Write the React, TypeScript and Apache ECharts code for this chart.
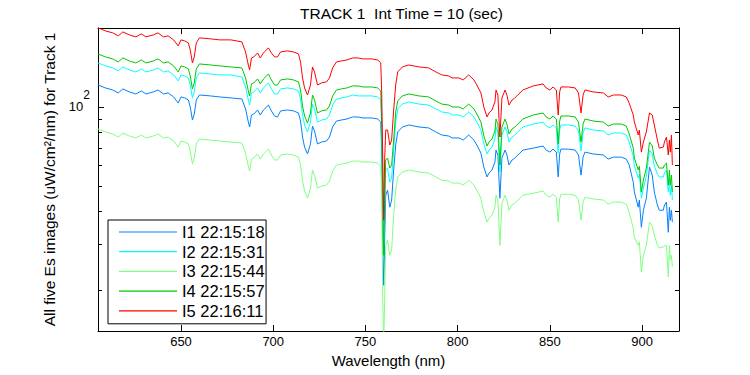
import React, { useEffect, useRef } from 'react';
import * as echarts from 'echarts';

const X_MIN = 605;
const X_MAX = 920;
const Y_MIN = 14;
const Y_MAX = 200;

const wavelengths = [
  605, 609, 613, 616, 618.5, 622, 625.5, 628.5, 631, 635,
  637.5, 640.5, 643, 646, 648.5, 650, 652, 654, 655, 656.2,
  657.2, 658.3, 660, 666, 671, 677, 683, 685, 686.5, 687.2,
  688.2, 689.5, 691.5, 693, 694.7, 697.4, 699, 700.7, 702.3, 704,
  707.7, 711, 713.7, 714.8, 715.9, 717, 718.6, 720.2, 721.3, 722.4,
  724, 726.2, 728.9, 730.5, 732.2, 734.3, 737, 740, 743, 746,
  748.5, 753.4, 756.6, 758.3, 758.8, 759.4, 759.9, 760.4, 761, 762,
  763.2, 764.2, 765.3, 766.4, 767.5, 770, 773.5, 779, 784.3, 788.2,
  791.4, 795.2, 797, 800.7, 803, 806, 808.8, 810.4, 812.6, 814.2,
  815.9, 817, 818.6, 820.2, 820.8, 821.8, 822.9, 824, 825.7, 826.7,
  827.8, 829.5, 831, 835.4, 841, 846.3, 848, 850, 851.7, 853.5,
  854.5, 855.3, 856, 860, 863.7, 865.5, 866.9, 868, 869, 873.5,
  879, 881.6, 884.5, 888.7, 891.4, 893, 895.2, 895.8, 897.9, 898.5,
  899.6, 900.7, 902.3, 904, 905.5, 906.6, 908.3, 909.3, 911.5, 912.1,
  913.2, 914.2, 914.8, 915.3, 915.9, 916.4
];

// I1 22:15:18 (blue)
const i1 = [
  121.3, 118.2, 116.1, 113.1, 117.2, 114.1, 112.1, 115.1, 112.1, 114.1,
  116.1, 112.1, 113.1, 109.2, 103.5, 109.2, 108.3, 106.3, 100, 89.2,
  94.0, 106.3, 111.1, 110.2, 109.2, 108.3, 107.3, 98.3, 87.6, 83.9,
  93.2, 94.0, 97.4, 93.2, 97.4, 101.7, 96.6, 92.4, 91.6, 96.6,
  97.4, 96.6, 94.9, 88.4, 76.8, 70.3, 66.2, 72.3, 84.6, 81.0,
  72.3, 73.5, 74.2, 76.8, 83.9, 88.4, 89.2, 90.0, 91.6, 91.6,
  90.8, 90.8, 90.0, 87.6, 68.5, 28.5, 20.9, 31.1, 46.1, 48.2,
  41.5, 44.2, 57.5, 71.6, 80.3, 83.9, 85.4, 83.9, 83.2, 80.3,
  78.2, 77.5, 76.2, 76.2, 74.8, 78.2, 74.8, 71.6, 66.7, 59.0,
  54.1, 56.0, 57.5, 61.7, 68.5, 65.6, 44.9, 63.9, 68.5, 65.6,
  60.1, 62.8, 63.9, 68.5, 69.7, 71.0, 68.5, 67.3, 69.1, 67.3,
  54.1, 66.2, 69.1, 69.1, 68.5, 65.6, 55.0, 64.4, 67.3, 66.2,
  65.6, 63.3, 64.4, 64.4, 63.3, 60.1, 51.7, 47.4, 41.5, 44.2,
  34.8, 40.4, 44.9, 59.0, 55.0, 47.4, 42.3, 40.4, 40.4, 42.3,
  43.4, 33.3, 41.5, 37.0, 40.4, 36.4
];

// I2 22:15:31 (cyan)
const i2 = [
  147.2, 143.4, 140.9, 137.2, 142.1, 138.4, 136.0, 139.7, 136.0, 138.4,
  140.9, 136.0, 137.2, 132.5, 125.7, 132.5, 131.3, 129.0, 121.3, 108.3,
  114.1, 129.0, 134.8, 133.6, 132.5, 132.5, 130.2, 119.2, 106.3, 101.7,
  113.1, 114.1, 118.2, 113.1, 118.2, 123.5, 117.2, 112.1, 112.1, 117.2,
  118.2, 117.2, 115.1, 107.3, 93.2, 85.4, 80.3, 87.6, 102.6, 98.3,
  87.6, 89.2, 90.0, 93.2, 101.7, 107.3, 108.3, 109.2, 111.1, 110.2,
  110.2, 110.2, 109.2, 106.3, 83.2, 40.4, 29.7, 38.7, 57.5, 58.5,
  51.7, 53.6, 68.5, 87.6, 98.3, 102.6, 104.5, 102.6, 101.7, 98.3,
  95.7, 94.9, 93.2, 93.2, 91.6, 95.7, 91.6, 87.6, 81.7, 72.3,
  66.2, 68.5, 70.3, 75.5, 83.9, 80.3, 56.5, 78.2, 83.9, 80.3,
  73.5, 76.8, 78.2, 83.9, 86.1, 87.6, 84.6, 83.2, 85.4, 83.2,
  66.7, 81.7, 85.4, 85.4, 84.6, 81.0, 67.9, 79.6, 83.2, 81.7,
  81.0, 78.2, 79.6, 79.6, 78.2, 73.5, 65.0, 59.5, 53.6, 55.5,
  44.9, 49.1, 54.5, 68.5, 66.2, 59.5, 55.5, 54.1, 54.1, 56.0,
  57.5, 47.4, 53.6, 46.1, 50.4, 44.2
];

// I3 22:15:44 (light green)
const i3 = [
  82.4, 80.3, 78.9, 76.8, 79.6, 77.5, 76.2, 78.2, 76.2, 77.5,
  78.9, 76.2, 76.8, 74.2, 70.3, 74.2, 73.5, 72.3, 67.9, 60.6,
  63.9, 72.3, 75.5, 74.8, 74.2, 73.5, 72.9, 66.7, 59.5, 57.0,
  63.3, 63.9, 66.2, 63.3, 66.2, 69.1, 65.6, 62.8, 62.8, 65.6,
  66.2, 65.6, 64.4, 60.1, 52.2, 47.8, 44.9, 49.1, 57.5, 55.0,
  49.1, 49.9, 50.4, 52.2, 57.0, 60.1, 60.6, 61.1, 62.2, 62.2,
  61.7, 61.7, 61.1, 59.5, 46.1, 18.3, 12.4, 18.3, 29.7, 31.1,
  27.2, 28.5, 38.7, 48.2, 54.1, 56.5, 57.5, 56.5, 56.0, 54.1,
  52.6, 52.2, 51.3, 51.3, 50.4, 52.6, 50.4, 48.2, 44.9, 39.7,
  36.4, 37.7, 38.7, 41.5, 46.1, 44.2, 29.7, 43.0, 46.1, 44.2,
  40.4, 42.3, 43.0, 46.1, 46.9, 47.8, 46.1, 45.3, 46.5, 45.3,
  36.4, 44.6, 46.5, 46.5, 46.1, 44.2, 37.0, 43.4, 45.3, 44.6,
  44.2, 42.6, 43.4, 43.4, 42.6, 39.7, 34.5, 31.7, 29.7, 30.6,
  23.5, 27.2, 29.7, 36.4, 35.1, 32.5, 29.7, 29.0, 29.3, 29.5,
  29.7, 22.5, 29.7, 26.1, 27.2, 24.6
];

// I4 22:15:57 (green)
const i4 = [
  159.3, 155.2, 152.5, 148.5, 153.8, 149.8, 147.2, 151.1, 147.2, 149.8,
  152.5, 147.2, 148.5, 143.4, 136.0, 143.4, 142.1, 139.7, 131.3, 117.2,
  123.5, 139.7, 145.9, 144.6, 143.4, 142.1, 140.9, 129.0, 115.1, 110.2,
  122.4, 123.5, 127.9, 122.4, 127.9, 133.6, 126.8, 121.3, 121.3, 126.8,
  127.9, 126.8, 124.6, 116.1, 100.9, 92.4, 86.9, 94.9, 111.1, 106.3,
  94.9, 96.6, 97.4, 100.9, 110.2, 116.1, 117.2, 118.2, 120.3, 120.3,
  119.2, 119.2, 118.2, 115.1, 89.2, 44.2, 27.2, 44.2, 62.8, 63.9,
  58.5, 60.1, 74.8, 95.7, 105.4, 110.2, 112.1, 110.2, 109.2, 105.4,
  102.6, 101.7, 100, 100, 98.3, 102.6, 98.3, 94.0, 87.6, 77.5,
  71.0, 73.5, 75.5, 81.0, 90.0, 86.1, 60.1, 83.9, 90.0, 86.1,
  78.9, 82.4, 83.9, 90.0, 93.2, 94.9, 91.6, 90.0, 92.4, 90.0,
  72.3, 88.4, 92.4, 92.4, 91.6, 87.6, 73.5, 86.1, 90.0, 88.4,
  87.6, 84.6, 86.1, 86.1, 84.6, 78.9, 69.7, 63.9, 57.5, 59.5,
  47.4, 52.6, 58.5, 73.5, 71.0, 63.9, 60.1, 58.5, 58.5, 60.1,
  61.1, 50.4, 57.5, 50.4, 55.0, 47.4
];

// I5 22:16:11 (red)
const i5 = [
  200.2, 195.0, 191.6, 186.6, 193.3, 188.2, 185.0, 189.9, 185.0, 188.2,
  191.6, 185.0, 186.6, 180.2, 170.9, 180.2, 178.6, 175.5, 165.0, 147.2,
  155.2, 175.5, 183.4, 181.8, 180.2, 180.2, 177.1, 162.1, 144.6, 138.4,
  153.8, 155.2, 160.7, 153.8, 160.7, 168.0, 160.7, 155.2, 155.2, 162.1,
  163.6, 162.1, 159.3, 148.5, 129.0, 118.2, 111.1, 121.3, 142.1, 136.0,
  121.3, 123.5, 124.6, 129.0, 140.9, 148.5, 149.8, 151.1, 153.8, 153.8,
  152.5, 152.5, 151.1, 147.2, 114.1, 62.8, 37.0, 62.8, 81.7, 81.7,
  71.6, 74.8, 97.4, 121.3, 136.0, 142.1, 144.6, 142.1, 140.9, 136.0,
  132.5, 131.3, 129.0, 129.0, 126.8, 132.5, 126.8, 121.3, 113.1, 100,
  91.6, 94.9, 97.4, 104.5, 116.1, 111.1, 76.8, 108.3, 116.1, 111.1,
  101.7, 106.3, 108.3, 116.1, 120.3, 122.4, 118.2, 116.1, 119.2, 116.1,
  93.2, 114.1, 119.2, 119.2, 118.2, 113.1, 94.9, 111.1, 116.1, 114.1,
  113.1, 109.2, 111.1, 111.1, 109.2, 103.5, 93.2, 87.6, 78.2, 81.7,
  67.3, 73.5, 80.3, 94.9, 93.2, 85.4, 74.8, 69.7, 70.3, 73.5,
  76.8, 65.6, 74.8, 67.3, 78.2, 60.1
];

const seriesNames = ['I1 22:15:18', 'I2 22:15:31', 'I3 22:15:44', 'I4 22:15:57', 'I5 22:16:11'];
const seriesColors = ['#0080ff', '#00ffff', '#80ff80', '#00c800', '#ff0000'];
const seriesValues = [i1, i2, i3, i4, i5];

const yTickValues = [20, 30, 40, 50, 60, 70, 80, 90, 100];
const yMajorTick = 100;

const FONT = "'Liberation Sans', Arial, Helvetica, sans-serif";

export default function App() {
  const ref = useRef<HTMLDivElement>(null);

  useEffect(() => {
    if (!ref.current) return;
    const chart = echarts.init(ref.current, null, { renderer: 'svg' });

    const lineSeries = seriesNames.map((name, k) => ({
      type: 'line',
      name,
      data: wavelengths.map((w, i) => [w, seriesValues[k][i]]),
      showSymbol: false,
      symbol: 'none',
      clip: true,
      lineStyle: { width: 1, color: seriesColors[k] },
      itemStyle: { color: seriesColors[k] },
      emphasis: { disabled: true },
    }));

    const tickSeries = {
      type: 'custom',
      silent: true,
      clip: false,
      data: yTickValues.map((v) => [X_MIN, v]),
      renderItem: (params: any, api: any) => {
        const cs = params.coordSys;
        const v = api.value(1);
        const p = api.coord([api.value(0), v]);
        const y = Math.round(p[1]) + 0.5;
        const len = v === yMajorTick ? 6 : 4;
        return {
          type: 'group',
          children: [
            { type: 'line', shape: { x1: cs.x, y1: y, x2: cs.x + len, y2: y }, style: { stroke: '#000', lineWidth: 1 } },
            { type: 'line', shape: { x1: cs.x + cs.width - len, y1: y, x2: cs.x + cs.width, y2: y }, style: { stroke: '#000', lineWidth: 1 } },
          ],
        };
      },
    };

    const xAxisCommon = {
      type: 'value',
      min: X_MIN,
      max: X_MAX,
      splitLine: { show: false },
      axisLine: { show: true, onZero: false, lineStyle: { color: '#000', width: 1 } },
      axisTick: { show: true, inside: true, length: 6, lineStyle: { color: '#000', width: 1 } },
    };

    const yAxisCommon = {
      type: 'log',
      logBase: 10,
      min: Y_MIN,
      max: Y_MAX,
      splitLine: { show: false },
      minorTick: { show: false },
      axisTick: { show: false },
      axisLine: { show: true, onZero: false, lineStyle: { color: '#000', width: 1 } },
    };

    const option: any = {
      animation: false,
      backgroundColor: '#ffffff',
      title: {
        text: 'TRACK 1  Int Time = 10 (sec)',
        left: 295,
        top: 0,
        textStyle: { fontFamily: FONT, fontSize: 15.5, fontWeight: 'normal', color: '#000' },
      },
      grid: { left: 98, top: 28, width: 581, height: 303, containLabel: false },
      legend: {
        orient: 'vertical',
        left: 108,
        top: 220,
        padding: [3.5, 1.5, 4.5, 11],
        icon: 'rect',
        itemWidth: 58,
        itemHeight: 1.2,
        itemGap: 2.7,
        borderColor: '#000',
        borderWidth: 1,
        borderRadius: 0,
        backgroundColor: '#fff',
        textStyle: { fontFamily: FONT, fontSize: 16.5, color: '#000', lineHeight: 16.5 },
        data: seriesNames,
        selectedMode: false,
      },
      xAxis: [
        {
          ...xAxisCommon,
          position: 'bottom',
          name: 'Wavelength (nm)',
          nameLocation: 'middle',
          nameGap: 18,
          nameTextStyle: { fontFamily: FONT, fontSize: 15, color: '#000' },
          axisLabel: {
            formatter: (v: number) => (Math.round(v) % 50 === 0 ? String(Math.round(v)) : ''),
            fontFamily: FONT,
            fontSize: 13,
            color: '#000',
            margin: 4,
          },
        },
        {
          ...xAxisCommon,
          position: 'top',
          axisLabel: { show: false },
        },
      ],
      yAxis: [
        {
          ...yAxisCommon,
          position: 'left',
          name: 'All five Es images (uW/cm²/nm) for Track 1',
          nameLocation: 'middle',
          nameRotate: 90,
          nameGap: 33,
          nameTextStyle: { fontFamily: FONT, fontSize: 15.5, color: '#000' },
          axisLabel: {
            formatter: (v: number) => (Math.abs(v - 100) < 0.5 ? '{b|10}{s|2}' : ''),
            margin: 8,
            rich: {
              b: { fontFamily: FONT, fontSize: 13, color: '#000', lineHeight: 36 },
              s: { fontFamily: FONT, fontSize: 12, color: '#000', lineHeight: 12, verticalAlign: 'top' },
            },
          },
        },
        {
          ...yAxisCommon,
          position: 'right',
          axisLabel: { show: false },
        },
      ],
      series: [...lineSeries, tickSeries],
    };

    chart.setOption(option);
    return () => chart.dispose();
  }, []);

  return (
    <div
      ref={ref}
      style={{ position: 'absolute', left: 0, top: 0, width: 750, height: 375, background: '#fff' }}
    />
  );
}
